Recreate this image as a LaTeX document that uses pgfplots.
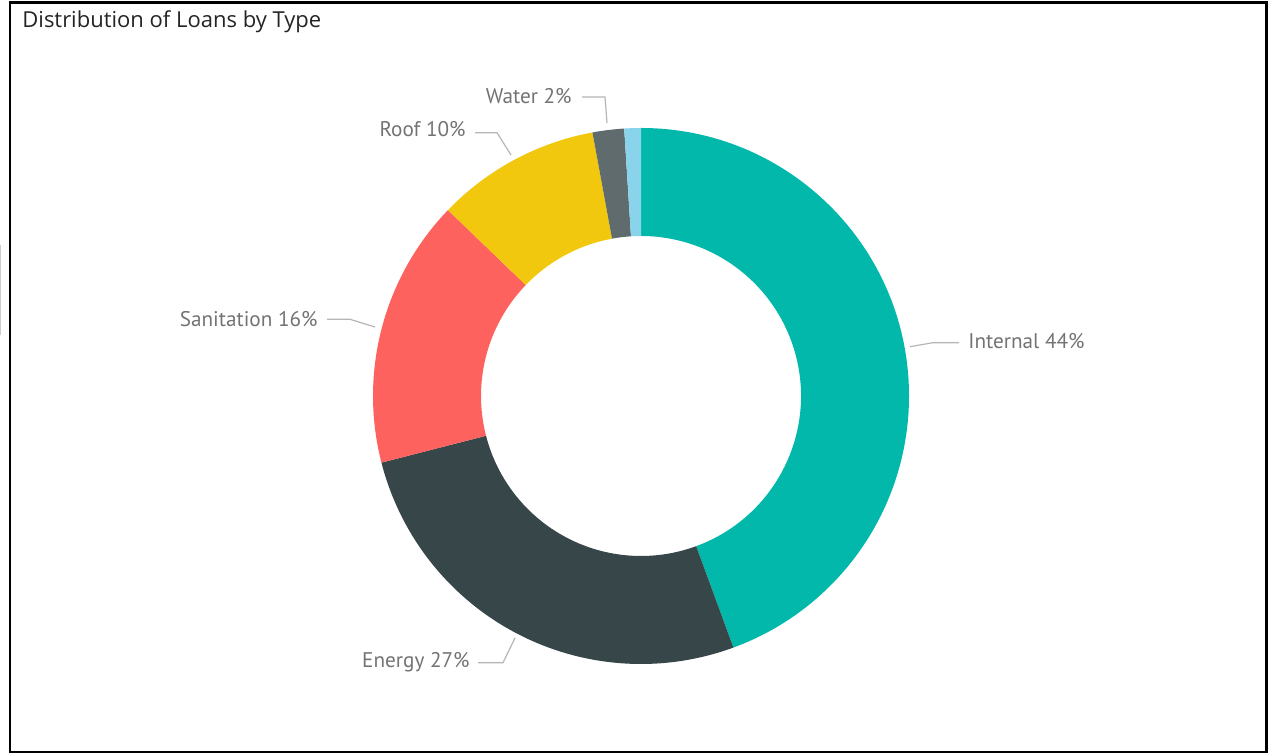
\documentclass[border=0pt]{standalone}
\usepackage{pgfplots}
\pgfplotsset{compat=1.18}
\usepackage{pgfplotstable}
\usepackage{fontspec}
\setmainfont{Open Sans}
\newfontfamily\labelfont{PT Sans}
\definecolor{cInternal}{HTML}{01B8AA}
\definecolor{cEnergy}{HTML}{374649}
\definecolor{cSanit}{HTML}{FD625E}
\definecolor{cRoof}{HTML}{F2C80F}
\definecolor{cWater}{HTML}{5F6B6D}
\definecolor{cOther}{HTML}{8AD4EB}
\definecolor{lbl}{HTML}{737373}
\definecolor{lead}{HTML}{B5B5B5}
\definecolor{ttl}{HTML}{252423}

\pgfplotstableread{
label value color
Internal 44.4 cInternal
Energy 26.6 cEnergy
Sanitation 16.2 cSanit
Roof 9.9 cRoof
Water 1.9 cWater
Other 1.0 cOther
}\loans

\begin{document}
\begin{tikzpicture}
\begin{axis}[
  x=0.5pt, y=0.5pt,
  xmin=0, xmax=1268, ymin=0, ymax=754,
  hide axis, clip=false,
]
% bounding box and frame
\path[draw=none] (axis cs:0,0) rectangle (axis cs:1268,754);
\draw[black, line width=1.25pt] (axis cs:10,2) rectangle (axis cs:1266.5,751.5);
\draw[black!20, line width=0.6pt] (axis cs:0.6,419) -- (axis cs:0.6,509);
\node[anchor=base west, font=\fontsize{11}{13}\selectfont, text=ttl, inner sep=0pt] at (axis cs:22,726) {Distribution of Loans by Type};

% donut slices
\gdef\cum{0}
\pgfplotsinvokeforeach{0,...,5}{
  \pgfplotstablegetelem{#1}{value}\of\loans
  \pgfmathsetmacro\v{\pgfplotsretval}
  \pgfplotstablegetelem{#1}{color}\of\loans
  \edef\c{\pgfplotsretval}
  \pgfmathsetmacro\aone{90-3.6*\cum}
  \pgfmathsetmacro\atwo{90-3.6*(\cum+\v)}
  \pgfmathsetmacro\xa{641+268*cos(\aone)}
  \pgfmathsetmacro\ya{358+268*sin(\aone)}
  \pgfmathsetmacro\xb{641+160*cos(\atwo)}
  \pgfmathsetmacro\yb{358+160*sin(\atwo)}
  \pgfmathsetmacro\newcum{\cum+\v}
  \xdef\cum{\newcum}
  \edef\tmp{\noexpand\fill[\c] (axis cs:\xa,\ya) arc[start angle=\aone, end angle=\atwo, radius=134pt] -- (axis cs:\xb,\yb) arc[start angle=\atwo, end angle=\aone, radius=80pt] -- cycle;}
  \tmp
}

% leader lines
\addplot[lead, line width=0.6pt, no marks] coordinates {(910,407.3) (933,411.3) (959,411.3)};
\addplot[lead, line width=0.6pt, no marks] coordinates {(478,91.3) (503,91.3) (515,116)};
\addplot[lead, line width=0.6pt, no marks] coordinates {(327,434.7) (350,434.7) (375,427)};
\addplot[lead, line width=0.6pt, no marks] coordinates {(475,621.3) (497,621.3) (511,599)};
\addplot[lead, line width=0.6pt, no marks] coordinates {(582,657) (605,657) (607,631)};

% labels
\tikzset{lab/.style={text=lbl, inner sep=0pt, font=\labelfont\fontsize{10.6}{12}\selectfont}}
\node[lab, anchor=base west] at (axis cs:968,405) {Internal 44\%};
\node[lab, anchor=base east] at (axis cs:470,86) {Energy 27\%};
\node[lab, anchor=base east] at (axis cs:318,427.5) {Sanitation 16\%};
\node[lab, anchor=base east] at (axis cs:466,617) {Roof 10\%};
\node[lab, anchor=base east] at (axis cs:572,650) {Water 2\%};
\end{axis}
\end{tikzpicture}
\end{document}
